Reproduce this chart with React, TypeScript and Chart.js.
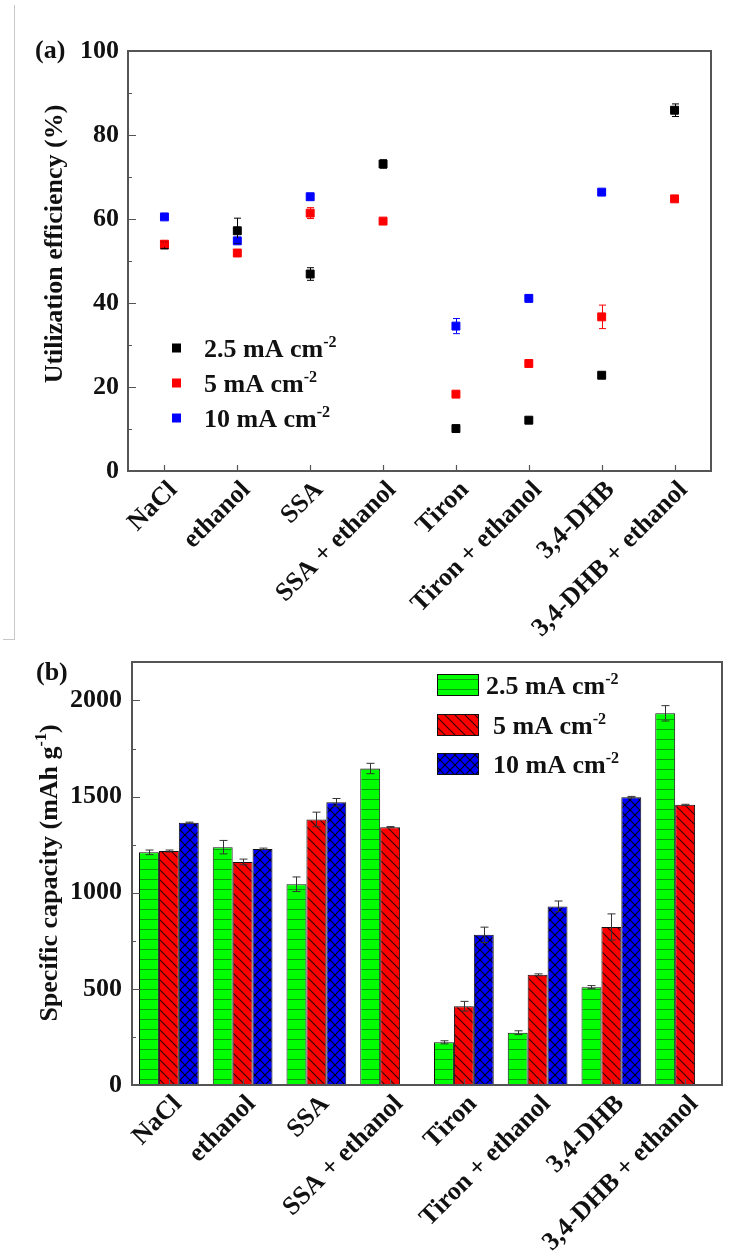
import React, { useEffect, useRef } from 'react';
import { Chart, registerables } from 'chart.js';

Chart.register(...registerables);

// ---------------- data ----------------
const categories = [
  'NaCl',
  'ethanol',
  'SSA',
  'SSA + ethanol',
  'Tiron',
  'Tiron + ethanol',
  '3,4-DHB',
  '3,4-DHB + ethanol',
];
const seriesLabels = ['2.5 mA cm^-2', '5 mA cm^-2', '10 mA cm^-2'];

// (a) utilization efficiency (%)
const eff25 = [53.8, 57.2, 46.9, 73.1, 10.1, 12.1, 22.8, 85.9];
const eff25Err = [0.8, 3.0, 1.5, 1.0, 0.4, 0.4, 0.5, 1.5];
const eff5 = [54.0, 51.9, 61.4, 59.5, 18.3, 25.6, 36.7, 64.8];
const eff5Err = [0.6, 0.5, 1.3, 0.4, 0.4, 0.4, 2.8, 0.4];
const eff10 = [60.5, 54.8, 65.3, null, 34.5, 41.1, 66.4, null];
const eff10Err = [0.4, 0.5, 0.5, null, 1.8, 0.8, 0.4, null];
const effTicks = [0, 20, 40, 60, 80, 100];

// (b) specific capacity (mAh g-1)
const cap25 = [1210, 1237, 1044, 1646, 222, 272, 509, 1933];
const cap25Err = [12, 35, 38, 27, 8, 10, 8, 40];
const cap5 = [1217, 1160, 1381, 1341, 410, 573, 822, 1457];
const cap5Err = [5, 15, 38, 3, 25, 5, 68, 3];
const cap10 = [1364, 1228, 1470, null, 781, 929, 1497, null];
const cap10Err = [3, 4, 20, null, 40, 28, 4, null];
const capTicks = [0, 500, 1000, 1500, 2000];

const titleA = 'Utilization efficiency (%)';
const titleB = 'Specific capacity (mAh g^-1^)';

// ---------------- style helpers ----------------
const SERIF = '"Liberation Serif", "Times New Roman", "DejaVu Serif", serif';
const TEXT = '#111';
const AXIS = '#555';
const FS = 26;

function fontStr(size: number) {
  return `bold ${size}px ${SERIF}`;
}

function richParts(text: string) {
  return text.split('^').map((t, i) => ({ t, sup: i % 2 === 1 }));
}

function richWidth(ctx: CanvasRenderingContext2D, text: string, size: number) {
  let w = 0;
  for (const p of richParts(text)) {
    ctx.font = fontStr(p.sup ? size * 0.62 : size);
    w += ctx.measureText(p.t).width;
  }
  return w;
}

function drawRich(ctx: CanvasRenderingContext2D, text: string, x: number, y: number, size: number) {
  let cx = x;
  ctx.textAlign = 'left';
  ctx.textBaseline = 'alphabetic';
  for (const p of richParts(text)) {
    const s = p.sup ? size * 0.62 : size;
    ctx.font = fontStr(s);
    ctx.fillText(p.t, cx, p.sup ? y - size * 0.4 : y);
    cx += ctx.measureText(p.t).width;
  }
}

function makePattern(kind: 'h' | 'd' | 'x') {
  const c = document.createElement('canvas');
  c.width = 10;
  c.height = 10;
  const g = c.getContext('2d')!;
  if (kind === 'h') {
    g.fillStyle = '#00ff00';
    g.fillRect(0, 0, 10, 10);
    g.fillStyle = '#0a9a0a';
    g.fillRect(0, 9, 10, 1);
  } else {
    g.fillStyle = kind === 'd' ? '#ff0000' : '#0000ff';
    g.fillRect(0, 0, 10, 10);
    g.strokeStyle = kind === 'd' ? '#3a0000' : '#000018';
    g.lineWidth = 1.2;
    g.beginPath();
    g.moveTo(-1, -1); g.lineTo(11, 11);
    g.moveTo(-1, 9); g.lineTo(1, 11);
    g.moveTo(9, -1); g.lineTo(11, 1);
    g.stroke();
    if (kind === 'x') {
      g.beginPath();
      g.moveTo(-1, 11); g.lineTo(11, -1);
      g.moveTo(-1, 1); g.lineTo(1, -1);
      g.moveTo(9, 11); g.lineTo(11, 9);
      g.stroke();
    }
  }
  return g.createPattern(c, 'repeat')!;
}

// error bars drawn from the dataset values through the y scale
const errorBarPlugin = {
  id: 'errorBars',
  afterDatasetsDraw(chart: any) {
    const ctx = chart.ctx as CanvasRenderingContext2D;
    const ys = chart.scales.y;
    chart.data.datasets.forEach((ds: any, di: number) => {
      if (!ds.errors) return;
      const meta = chart.getDatasetMeta(di);
      ctx.save();
      ctx.strokeStyle = ds.errorColor;
      ctx.lineWidth = 1;
      meta.data.forEach((el: any, i: number) => {
        const v = ds.data[i];
        const e = ds.errors[i];
        if (v == null || e == null) return;
        const x = Math.round(el.x) + 0.5;
        const yt = ys.getPixelForValue(v + e);
        const yb = ys.getPixelForValue(v - e);
        const cap = ds.errorCap;
        ctx.beginPath();
        ctx.moveTo(x, yt); ctx.lineTo(x, yb);
        ctx.moveTo(x - cap, yt); ctx.lineTo(x + cap, yt);
        ctx.moveTo(x - cap, yb); ctx.lineTo(x + cap, yb);
        ctx.stroke();
      });
      ctx.restore();
    });
  },
};

// boxed frame with inward ticks
function framePlugin(majorStep: number, minorStep: number, top: number) {
  return {
    id: 'frame',
    afterDraw(chart: any) {
      const ctx = chart.ctx as CanvasRenderingContext2D;
      const a = chart.chartArea;
      const ys = chart.scales.y;
      const xs = chart.scales.x;
      ctx.save();
      ctx.strokeStyle = AXIS;
      ctx.lineWidth = 1.2;
      ctx.beginPath();
      for (let v = 0; v <= top; v += minorStep) {
        const y = Math.round(ys.getPixelForValue(v)) + 0.5;
        const len = v % majorStep === 0 ? 8 : 4;
        ctx.moveTo(a.left, y); ctx.lineTo(a.left + len, y);
      }
      categories.forEach((_, i) => {
        const x = Math.round(xs.getPixelForValue(i)) + 0.5;
        ctx.moveTo(x, a.bottom); ctx.lineTo(x, a.bottom - 6);
      });
      ctx.stroke();
      ctx.lineWidth = 2;
      ctx.strokeRect(a.left, a.top, a.right - a.left, a.bottom - a.top);
      ctx.restore();
    },
  };
}

function drawYTitle(ctx: CanvasRenderingContext2D, text: string, cx: number, cy: number) {
  ctx.save();
  ctx.translate(cx, cy);
  ctx.rotate(-Math.PI / 2);
  ctx.fillStyle = TEXT;
  const w = richWidth(ctx, text, FS);
  drawRich(ctx, text, -w / 2, FS * 0.33, FS);
  ctx.restore();
}

const tickFont = { family: SERIF, size: FS, weight: 'bold' as const };
const plainNumber = (v: any) => String(v);

export default function App() {
  const topRef = useRef<HTMLCanvasElement>(null);
  const botRef = useRef<HTMLCanvasElement>(null);

  useEffect(() => {
    // ---------- (a) ----------
    const scatterColors = ['#000000', '#ff0000', '#0000ff'];
    const effData = [eff25, eff5, eff10];
    const effErr = [eff25Err, eff5Err, eff10Err];
    const annotA = {
      id: 'annotA',
      afterDraw(chart: any) {
        const ctx = chart.ctx as CanvasRenderingContext2D;
        ctx.save();
        ctx.fillStyle = TEXT;
        ctx.font = fontStr(FS);
        ctx.textAlign = 'left';
        ctx.textBaseline = 'alphabetic';
        ctx.fillText('(a)', 35, 58);
        drawYTitle(ctx, titleA, 53, 244);
        const rows = [348, 383, 418];
        chart.data.datasets.forEach((ds: any, i: number) => {
          ctx.fillStyle = ds.pointBackgroundColor;
          ctx.fillRect(172, rows[i] - 4.5, 9, 9);
          ctx.fillStyle = TEXT;
          drawRich(ctx, ds.label, 204, rows[i] + 9, FS);
        });
        ctx.restore();
      },
    };
    const c1 = new Chart(topRef.current!, {
      type: 'line',
      data: {
        labels: categories,
        datasets: effData.map((d, i) => ({
          label: seriesLabels[i],
          data: d,
          errors: effErr[i],
          errorColor: scatterColors[i],
          errorCap: 3.5,
          showLine: false,
          pointStyle: 'rect',
          pointRadius: 5.6,
          pointBorderWidth: 1,
          pointBackgroundColor: scatterColors[i],
          pointBorderColor: scatterColors[i],
          borderColor: scatterColors[i],
          order: 3 - i,
        })) as any,
      },
      options: {
        animation: false,
        responsive: false,
        layout: { padding: { left: 0, right: 24, top: 51, bottom: 0 } },
        plugins: { legend: { display: false }, tooltip: { enabled: false } },
        scales: {
          x: {
            type: 'category',
            offset: true,
            grid: { display: false, drawTicks: false },
            border: { display: false },
            ticks: { font: tickFont, color: TEXT, minRotation: 45, maxRotation: 45, autoSkip: false, padding: 4, labelOffset: 9 },
            afterFit: (s: any) => { s.height = 179; },
          },
          y: {
            min: 0,
            max: 100,
            grid: { display: false, drawTicks: false },
            border: { display: false },
            ticks: { font: tickFont, color: TEXT, stepSize: 20, padding: 9, callback: plainNumber },
            afterBuildTicks: (s: any) => { s.ticks = effTicks.map((v) => ({ value: v })); },
            afterFit: (s: any) => { s.width = 128; },
          },
        },
      } as any,
      plugins: [errorBarPlugin, framePlugin(20, 10, 100), annotA],
    });

    // ---------- (b) ----------
    const patterns = [makePattern('h'), makePattern('d'), makePattern('x')];
    const capData = [cap25, cap5, cap10];
    const capErr = [cap25Err, cap5Err, cap10Err];
    const annotB = {
      id: 'annotB',
      afterDraw(chart: any) {
        const ctx = chart.ctx as CanvasRenderingContext2D;
        ctx.save();
        ctx.fillStyle = TEXT;
        ctx.font = fontStr(FS);
        ctx.textAlign = 'left';
        ctx.textBaseline = 'alphabetic';
        ctx.fillText('(b)', 36, 60);
        drawYTitle(ctx, titleB, 48, 253);
        const rows = [54, 94, 133];
        const textX = [486, 493, 493];
        chart.data.datasets.forEach((ds: any, i: number) => {
          ctx.fillStyle = ds.backgroundColor;
          ctx.fillRect(437, rows[i], 41, 21);
          ctx.strokeStyle = '#111';
          ctx.lineWidth = 1;
          ctx.strokeRect(437.5, rows[i] + 0.5, 41, 21);
          ctx.fillStyle = TEXT;
          drawRich(ctx, ds.label, textX[i], rows[i] + 20, FS);
        });
        ctx.restore();
      },
    };
    const c2 = new Chart(botRef.current!, {
      type: 'bar',
      data: {
        labels: categories,
        datasets: capData.map((d, i) => ({
          label: seriesLabels[i],
          data: d,
          errors: capErr[i],
          errorColor: '#333',
          errorCap: 4,
          backgroundColor: patterns[i],
          borderColor: '#111',
          borderWidth: 1,
          categoryPercentage: 0.81,
          barPercentage: 1,
        })) as any,
      },
      options: {
        animation: false,
        responsive: false,
        layout: { padding: { left: 0, right: 13, top: 42, bottom: 0 } },
        plugins: { legend: { display: false }, tooltip: { enabled: false } },
        scales: {
          x: {
            type: 'category',
            offset: true,
            grid: { display: false, drawTicks: false },
            border: { display: false },
            ticks: { font: tickFont, color: TEXT, minRotation: 45, maxRotation: 45, autoSkip: false, padding: 4, labelOffset: 9 },
            afterFit: (s: any) => { s.height = 174; },
          },
          y: {
            min: 0,
            max: 2200,
            grid: { display: false, drawTicks: false },
            border: { display: false },
            ticks: { font: tickFont, color: TEXT, stepSize: 500, padding: 10, callback: plainNumber },
            afterBuildTicks: (s: any) => { s.ticks = capTicks.map((v) => ({ value: v })); },
            afterFit: (s: any) => { s.width = 132; },
          },
        },
      } as any,
      plugins: [errorBarPlugin, framePlugin(500, 250, 2200), annotB],
    });

    return () => {
      c1.destroy();
      c2.destroy();
    };
  }, []);

  return (
    <div style={{ position: 'absolute', left: 0, top: 0, width: 735, height: 1259, background: '#fff', overflow: 'hidden' }}>
      <div
        style={{
          position: 'absolute', left: 3, top: 5, width: 11, height: 634,
          borderRight: '1px solid #c8c8c8', borderBottom: '1px solid #c8c8c8',
        }}
      />
      <canvas ref={topRef} width={735} height={650} style={{ position: 'absolute', left: 0, top: 0 }} />
      <canvas ref={botRef} width={735} height={639} style={{ position: 'absolute', left: 0, top: 620 }} />
    </div>
  );
}
